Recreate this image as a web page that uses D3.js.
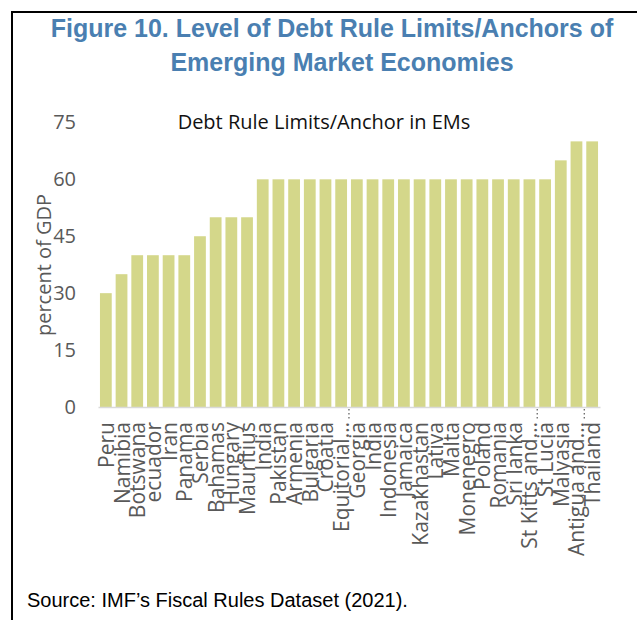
<!DOCTYPE html>
<html>
<head>
<meta charset="utf-8">
<script src="https://cdn.jsdelivr.net/npm/d3@7"></script>
<style>
  body { margin: 0; background: #fff; }
  svg { display: block; }
</style>
</head>
<body>
<div id="chart"></div>
<script>
// data
const countries = ["Peru", "Namibia", "Botswana", "ecuador", "Iran", "Panama", "Serbia", "Bahamas",
  "Hungary", "Mauritius", "India", "Pakistan", "Armenia", "Bulgaria", "Croatia", "Equitorial…",
  "Georgia", "India ", "Indonesia", "Jamaica", "Kazakhastan", "Lativa", "Malta", "Monenegro",
  "Poland", "Romania", "Sri lanka", "St Kitts and…", "St Lucia", "Malyasia", "Antigua and…", "Thailand"];
const limits = [30, 35, 40, 40, 40, 40, 45, 50, 50, 50, 60, 60, 60, 60, 60, 60,
  60, 60, 60, 60, 60, 60, 60, 60, 60, 60, 60, 60, 60, 65, 70, 70];
const yTicks = [0, 15, 30, 45, 60, 75];
const truncated = ["Equitorial…", "St Kitts and…", "Antigua and…"];

const W = 637, H = 620;
const svg = d3.select("#chart").append("svg").attr("width", W).attr("height", H);

// frame of the figure box
svg.append("path")
  .attr("d", "M12,620 L12,12 L637,12")
  .attr("fill", "none").attr("stroke", "#000").attr("stroke-width", 2);

// figure title
const titleLines = [
  {t: "Figure 10. Level of Debt Rule Limits/Anchors of", x: 332, y: 37},
  {t: "Emerging Market Economies", x: 342, y: 71}
];
svg.selectAll(".ftitle").data(titleLines).join("text")
  .attr("class", "ftitle")
  .attr("x", d => d.x).attr("y", d => d.y)
  .attr("text-anchor", "middle")
  .attr("font-family", "Liberation Sans, Arial, sans-serif")
  .attr("font-weight", "bold").attr("font-size", 25)
  .attr("fill", "#4a7fb1")
  .text(d => d.t);

// chart title
svg.append("text")
  .attr("x", 324).attr("y", 129)
  .attr("text-anchor", "middle")
  .attr("font-family", "Open Sans, sans-serif").attr("font-size", 20)
  .attr("fill", "#111")
  .text("Debt Rule Limits/Anchor in EMs");

const x = d3.scaleBand().domain(countries).range([98, 600])
  .paddingInner(0.25).paddingOuter(0.125);
const y = d3.scaleLinear().domain([0, 75]).range([407, 122.4]);

// bars
svg.append("g").selectAll("rect").data(countries).join("rect")
  .attr("x", d => x(d))
  .attr("width", x.bandwidth())
  .attr("y", (d, i) => y(limits[i]))
  .attr("height", (d, i) => y(0) - y(limits[i]))
  .attr("fill", "#d4d78a");

// y axis labels only
const yAxis = svg.append("g").attr("transform", "translate(76,0)")
  .call(d3.axisLeft(y).tickValues(yTicks).tickSize(0).tickPadding(0));
yAxis.select(".domain").remove();
yAxis.selectAll("text")
  .attr("font-family", "Open Sans, sans-serif").attr("font-size", 20)
  .attr("fill", "#595959");

// y axis title
svg.append("text")
  .attr("transform", "translate(43,265) rotate(-90)")
  .attr("text-anchor", "middle").attr("dominant-baseline", "central")
  .attr("font-family", "Open Sans, sans-serif").attr("font-size", 20)
  .attr("fill", "#595959")
  .text("percent of GDP");

// x axis
const xAxis = svg.append("g").attr("transform", "translate(0,407)")
  .call(d3.axisBottom(x).tickSize(0).tickPadding(0));
xAxis.select(".domain").attr("stroke", "#d9d9d9").attr("stroke-width", 1.5);
xAxis.selectAll("text")
  .attr("font-family", "Open Sans, sans-serif").attr("font-size", 21)
  .attr("fill", "#595959")
  .attr("text-anchor", "end")
  .attr("dominant-baseline", "central")
  .attr("dy", null)
  .attr("transform", "translate(0,15) rotate(-90)");

// little dotted marks after the cut-off labels
svg.append("g").selectAll("line").data(truncated).join("line")
  .attr("x1", d => x(d) + x.step() - 2).attr("x2", d => x(d) + x.step() - 2)
  .attr("y1", 409).attr("y2", 421)
  .attr("stroke", "#595959").attr("stroke-width", 1.2)
  .attr("stroke-dasharray", "1.5,2.5");

// source note
svg.append("text")
  .attr("x", 27).attr("y", 607)
  .attr("font-family", "Liberation Sans, Arial, sans-serif").attr("font-size", 20)
  .attr("fill", "#000")
  .text("Source: IMF’s Fiscal Rules Dataset (2021).");
</script>
</body>
</html>
